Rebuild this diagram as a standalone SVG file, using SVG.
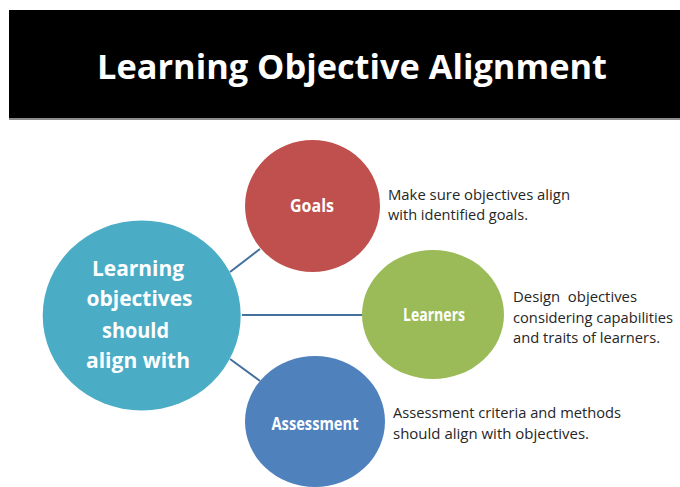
<svg xmlns="http://www.w3.org/2000/svg" width="680" height="487" viewBox="0 0 680 487">
<style>
.t{font-family:"Open Sans","Liberation Sans",sans-serif}
.lbl{font-family:"Open Sans","Liberation Sans",sans-serif;font-weight:bold;fill:#ffffff;text-anchor:middle}
.desc{font-family:"Open Sans","Liberation Sans",sans-serif;font-size:15px;fill:#262626;white-space:pre}
.con{stroke:#44709c;stroke-width:2;fill:none}
</style>
<rect x="0" y="0" width="680" height="487" fill="#ffffff"/>
<g id="banner">
<rect x="9" y="10" width="671" height="108" fill="#000000"/>
<rect x="9" y="118" width="671" height="2" fill="#8c8c8c"/>
<text class="t" x="352" y="79" font-size="34" font-weight="bold" fill="#ffffff" text-anchor="middle" textLength="510" lengthAdjust="spacingAndGlyphs">Learning Objective Alignment</text>
</g>
<g id="connectors">
<line class="con" x1="230" y1="272" x2="260" y2="249"/>
<line class="con" x1="242" y1="315" x2="363" y2="315"/>
<line class="con" x1="230" y1="359" x2="260" y2="381"/>
</g>
<g id="center">
<ellipse cx="141.7" cy="315.5" rx="99" ry="95" fill="#4bacc6"/>
<text class="lbl" x="138" y="276" font-size="22" textLength="92" lengthAdjust="spacingAndGlyphs">Learning</text>
<text class="lbl" x="139.5" y="306" font-size="22" textLength="106" lengthAdjust="spacingAndGlyphs">objectives</text>
<text class="lbl" x="135.5" y="338" font-size="22" textLength="67" lengthAdjust="spacingAndGlyphs">should</text>
<text class="lbl" x="138" y="368" font-size="22" textLength="104" lengthAdjust="spacingAndGlyphs">align with</text>
</g>
<g id="goals">
<ellipse cx="312.5" cy="206" rx="67.5" ry="66" fill="#c0504d"/>
<text class="lbl" x="312" y="212" font-size="17" textLength="44" lengthAdjust="spacingAndGlyphs">Goals</text>
<text class="desc" x="388" y="200" textLength="182" lengthAdjust="spacingAndGlyphs">Make sure objectives align</text>
<text class="desc" x="388" y="220" textLength="140" lengthAdjust="spacingAndGlyphs">with identified goals.</text>
</g>
<g id="learners">
<ellipse cx="433" cy="314.5" rx="71" ry="64.5" fill="#9bbb59"/>
<text class="lbl" x="434" y="321" font-size="17" textLength="62" lengthAdjust="spacingAndGlyphs">Learners</text>
<text class="desc" x="513" y="302" textLength="124" lengthAdjust="spacingAndGlyphs">Design  objectives</text>
<text class="desc" x="513" y="322.5" textLength="160" lengthAdjust="spacingAndGlyphs">considering capabilities</text>
<text class="desc" x="513" y="342.5" textLength="147" lengthAdjust="spacingAndGlyphs">and traits of learners.</text>
</g>
<g id="assessment">
<ellipse cx="315" cy="421.5" rx="70" ry="65.5" fill="#4f81bd"/>
<text class="lbl" x="315" y="429.5" font-size="17" textLength="87" lengthAdjust="spacingAndGlyphs">Assessment</text>
<text class="desc" x="393" y="418" textLength="228" lengthAdjust="spacingAndGlyphs">Assessment criteria and methods</text>
<text class="desc" x="393" y="438.5" textLength="196" lengthAdjust="spacingAndGlyphs">should align with objectives.</text>
</g>
</svg>
